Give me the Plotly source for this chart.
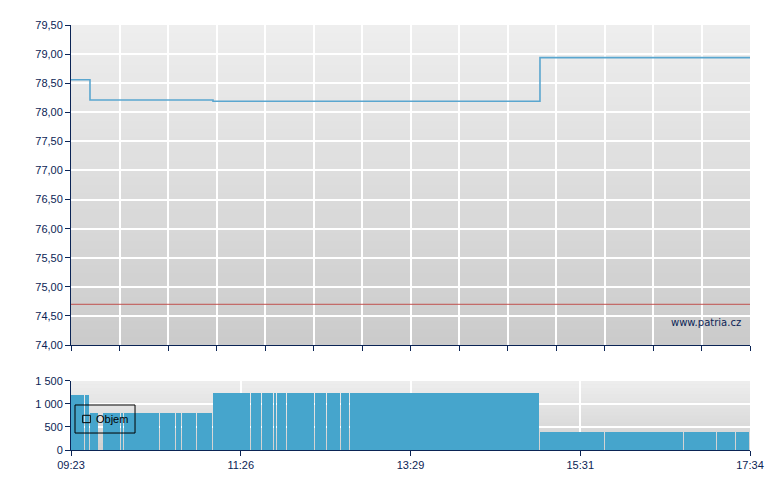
import plotly.graph_objects as go
import pandas as pd

DAY = "2024-01-01 "

# Price (step line)
price_times = ["09:23:00", "09:36:44", "11:05:41", "15:02:08", "17:34:00"]
price_values = [78.56, 78.21, 78.19, 78.94, 78.94]
prev_close = 74.70

# Volume segments (start times) and volumes
vol_times = ["09:23:00", "09:32:55", "09:36:44", "09:43:28", "09:45:55", "09:58:56",
             "10:01:19", "10:27:08", "10:38:43", "10:43:29", "10:53:53", "11:05:41",
             "11:08:56", "11:32:56", "11:40:54", "11:49:34", "11:52:11", "11:53:37",
             "11:58:58", "12:19:13", "12:27:54", "12:38:01", "12:44:32", "15:02:08",
             "15:47:29", "15:48:55", "16:46:02", "17:09:55", "17:23:52"]
vol_values = [1200, 1200, 800, 0, 800, 800,
              800, 800, 800, 800, 800, 1250,
              1250, 1250, 1250, 1250, 1250, 1250,
              1250, 1250, 1250, 1250, 1250, 400,
              400, 400, 400, 400, 400]
session_start = "09:23:00"
session_end = "17:34:00"

x_tick_vals = ["09:23:00", "11:25:45", "13:28:30", "15:31:15", "17:34:00"]
x_tick_text = ["09:23", "11:26", "13:29", "15:31", "17:34"]
price_ticks = [74.0, 74.5, 75.0, 75.5, 76.0, 76.5, 77.0, 77.5, 78.0, 78.5, 79.0, 79.5]
vol_ticks = [0, 500, 1000, 1500]
legend_label = "Objem"
watermark = "www.patria.cz"

NAVY = "#0b2455"
BAR = "#46a5cc"

t = lambda s: pd.Timestamp(DAY + s)
pt = [t(s) for s in price_times]
vt = [t(s) for s in vol_times]
t_start, t_end = t(session_start), t(session_end)

bounds = vt[1:] + [t_end]
gap_ms = 40000
widths = [(b - a).total_seconds() * 1000 - gap_ms for a, b in zip(vt, bounds)]

fig = go.Figure()
fig.add_trace(go.Scatter(x=pt, y=price_values, mode="lines", line_shape="hv",
                         line=dict(color="#5aa6cf", width=1.6),
                         xaxis="x", yaxis="y", showlegend=False, hoverinfo="skip"))
fig.add_trace(go.Bar(x=vt, y=vol_values, width=widths, offset=0, name=legend_label,
                     marker=dict(color=BAR, line=dict(width=0)),
                     xaxis="x2", yaxis="y2", showlegend=False))

shapes = []
def gradient(xd, yd, c_top, c_bot, n=40):
    for i in range(n):
        f = (i + 0.5) / n
        c = [round(c_bot[k] + (c_top[k] - c_bot[k]) * f) for k in range(3)]
        shapes.append(dict(type="rect", xref=xd, yref=yd, x0=0, x1=1,
                           y0=i / n, y1=min(1, (i + 1) / n + 0.004),
                           fillcolor="rgb(%d,%d,%d)" % tuple(c), line=dict(width=0),
                           layer="below"))
gradient("x domain", "y domain", (238, 238, 238), (203, 203, 203))
gradient("x2 domain", "y2 domain", (238, 238, 238), (208, 208, 208), n=20)
shapes.append(dict(type="line", xref="x domain", yref="y", x0=0, x1=1,
                   y0=prev_close, y1=prev_close, line=dict(color="#c0504d", width=1)))
# legend box (drawn as shapes + text)
shapes.append(dict(type="rect", xref="x2 domain", yref="y2 domain",
                   x0=0.0059, x1=0.0943, y0=0.246, y1=0.652,
                   line=dict(color="black", width=1), fillcolor="rgba(0,0,0,0)"))
shapes.append(dict(type="rect", xref="x2 domain", yref="y2 domain",
                   x0=0.0172, x1=0.0284, y0=0.396, y1=0.503,
                   line=dict(color="black", width=1), fillcolor="rgba(0,0,0,0)"))

step_ms = (t_end - t_start).total_seconds() * 1000 / 14
fig.update_layout(
    width=772, height=482,
    margin=dict(l=63, r=30, t=17, b=40),
    paper_bgcolor="white", plot_bgcolor="#dddddd",
    separators=", ",
    font=dict(family="Liberation Sans, Arial, sans-serif", size=11, color=NAVY),
    shapes=shapes,
    showlegend=False,
    xaxis=dict(domain=[0, 1], anchor="y", type="date", range=[t_start, t_end],
               tick0=t_start, dtick=step_ms, showticklabels=False,
               ticks="outside", ticklen=5, tickcolor=NAVY,
               showgrid=True, gridcolor="white", gridwidth=1.5,
               showline=True, linecolor=NAVY, linewidth=1, zeroline=False),
    yaxis=dict(domain=[0.247, 1], anchor="x", range=[74, 79.5],
               tickvals=price_ticks, tickformat=".2f",
               ticks="outside", ticklen=5, tickcolor=NAVY,
               showgrid=True, gridcolor="white", gridwidth=1.5,
               showline=True, linecolor=NAVY, linewidth=1, zeroline=False),
    xaxis2=dict(domain=[0, 1], anchor="y2", type="date", range=[t_start, t_end],
                tickvals=[t(s) for s in x_tick_vals], ticktext=x_tick_text,
                ticks="outside", ticklen=5, tickcolor=NAVY,
                showgrid=True, gridcolor="white", gridwidth=1.5,
                showline=True, linecolor=NAVY, linewidth=1, zeroline=False),
    yaxis2=dict(domain=[0, 0.1624], anchor="x2", range=[0, 1500],
                tickvals=vol_ticks, separatethousands=True, tickformat=",d",
                ticks="outside", ticklen=5, tickcolor=NAVY,
                showgrid=True, gridcolor="white", gridwidth=1.5,
                showline=True, linecolor=NAVY, linewidth=1, zeroline=False),
    bargap=0,
    annotations=[
        dict(text=watermark, xref="x domain", yref="y domain",
             x=0.99, y=0.07, xanchor="right", yanchor="middle", showarrow=False,
             font=dict(family="DejaVu Sans, Verdana, sans-serif", size=10, color=NAVY)),
        dict(text=legend_label, xref="x2 domain", yref="y2 domain",
             x=0.0345, y=0.45, xanchor="left", yanchor="middle", showarrow=False,
             font=dict(color="black", size=11)),
    ],
)

fig.write_html("out.html")
